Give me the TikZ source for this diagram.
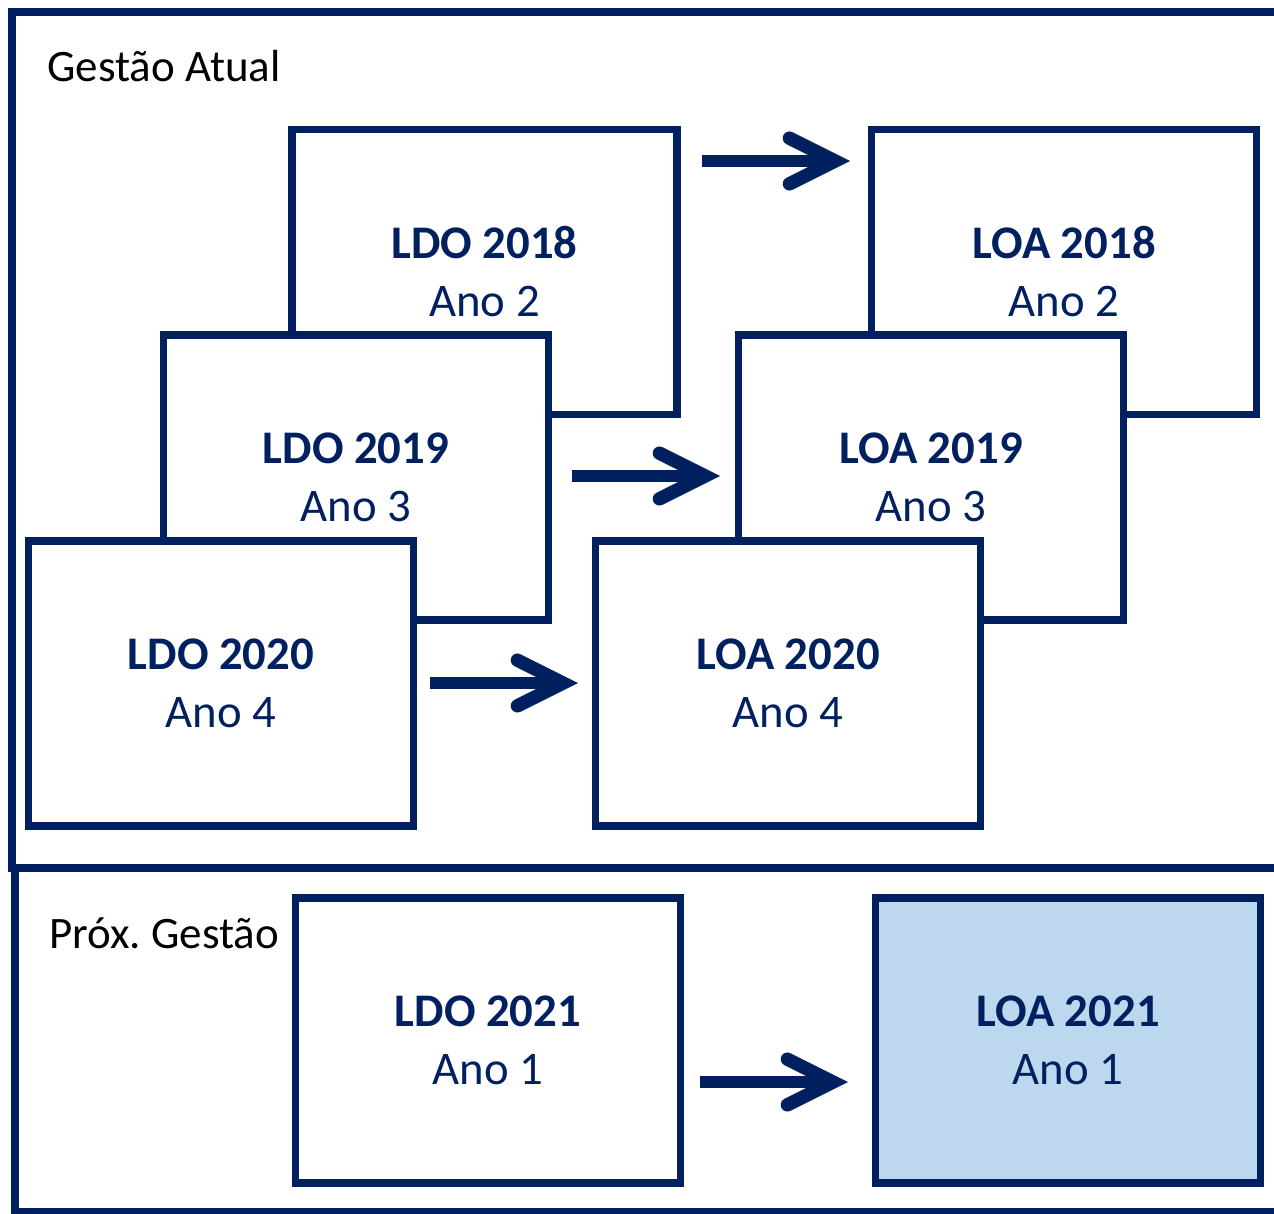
\documentclass[tikz,border=0pt]{standalone}
\usepackage{fontspec}
\setmainfont{Carlito}
\usetikzlibrary{arrows.meta}
\definecolor{navy}{HTML}{002060}
\definecolor{paleblue}{HTML}{BDD7EE}
\frenchspacing
\begin{document}
\begin{tikzpicture}[x=0.2mm, y=-0.2mm,
  lei/.style={draw=navy, line width=4.5pt, fill=white, minimum width=7.70cm, minimum height=5.70cm,
    align=center, text=navy, font=\fontsize{26.6}{33}\selectfont},
  arr/.style={draw=navy, line width=6.8pt, -{Straight Barb[length=26pt, width=26pt, line width=7.6pt, line cap=round]}},
  frame/.style={draw=navy, line width=4.5pt},
  rotulo/.style={anchor=base west, inner sep=0pt, font=\fontsize{25.6}{30}\selectfont}]
  \useasboundingbox (0,0) rectangle (1274,1214);

  % Frames
  \draw[frame] (1290,12) -- (12,12) -- (12,868) -- (1290,868);
  \draw[frame] (15,868) -- (15,1212) -- (1290,1212);
  \node[rotulo] (atual) at (47,82) {Gestão Atual};
  \node[rotulo] (prox) at (49,948) {Próx. Gestão};

  % Boxes
  \node[lei] (ldoA) at (484.5,272) {\textbf{LDO 2018}\\Ano 2};
  \node[lei] (loaA) at (1064,272) {\textbf{LOA 2018}\\Ano 2};
  \node[lei] (ldoB) at (356,477.5) {\textbf{LDO 2019}\\Ano 3};
  \node[lei] (loaB) at (931,477.5) {\textbf{LOA 2019}\\Ano 3};
  \node[lei] (ldoC) at (221,683.5) {\textbf{LDO 2020}\\Ano 4};
  \node[lei] (loaC) at (788,683.5) {\textbf{LOA 2020}\\Ano 4};
  \node[lei] (ldoD) at (488,1040.5) {\textbf{LDO 2021}\\Ano 1};
  \node[lei, fill=paleblue] (loaD) at (1068,1040.5) {\textbf{LOA 2021}\\Ano 1};

  % Arrows
  \coordinate (sA) at (702,161);  \coordinate (tA) at (850,161);
  \coordinate (sB) at (572,476);  \coordinate (tB) at (720,476);
  \coordinate (sC) at (430,683);  \coordinate (tC) at (578,683);
  \coordinate (sD) at (700,1082); \coordinate (tD) at (848,1082);
  \draw[arr] (sA) -- (tA);
  \draw[arr] (sB) -- (tB);
  \draw[arr] (sC) -- (tC);
  \draw[arr] (sD) -- (tD);
\end{tikzpicture}
\end{document}
